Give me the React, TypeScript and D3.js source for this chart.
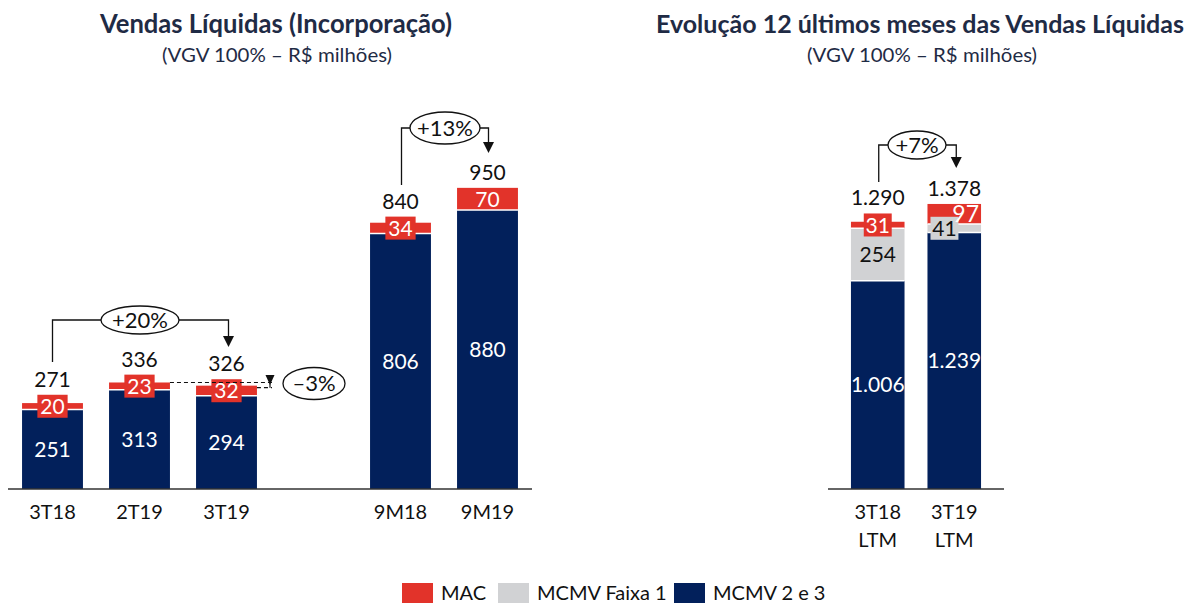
import React from 'react';
import * as d3 from 'd3';

// ---------- DATA ----------
const LEFT_CATS = ['3T18', '2T19', '3T19', '9M18', '9M19'];
const LEFT_MCMV23 = [251, 313, 294, 806, 880];
const LEFT_MAC = [20, 23, 32, 34, 70];
const LEFT_TOTAL = [271, 336, 326, 840, 950];

const RIGHT_CATS = ['3T18 LTM', '3T19 LTM'];
const RIGHT_MCMV23 = [1006, 1239];
const RIGHT_FAIXA1 = [254, 41];
const RIGHT_MAC = [31, 97];
const RIGHT_TOTAL = [1290, 1378];

const LEGEND = ['MAC', 'MCMV Faixa 1', 'MCMV 2 e 3'];

// ---------- STYLE ----------
const RED = '#e2332a';
const GREY = '#d1d2d4';
const NAVY = '#02205b';
const TITLE = '#1f2b45';
const FONT = 'Lato, "Open Sans", sans-serif';

const locale = d3.formatLocale({ decimal: ',', thousands: '.', grouping: [3], currency: ['R$', ''] });
const fmt = locale.format(',d');

type Seg = { v: number; color: string; text: string; textColor: string; align: 'center' | 'start' | 'end' };

function approxWidth(s: string, size: number) {
  let w = 0;
  for (const c of s) w += c === '1' ? size * 0.42 : c === '.' ? size * 0.25 : size * 0.53;
  return w;
}

function Stack({ x, w, segs, y, total }: { x: number; w: number; segs: Seg[]; y: d3.ScaleLinear<number, number>; total: string }) {
  let cum = 0;
  const parts = segs.map((s) => {
    const y0 = y(cum);
    cum += s.v;
    const y1 = y(cum);
    return { ...s, y0, y1 };
  });
  const top = parts[parts.length - 1].y1;
  let labelTop = top;
  const els: React.ReactNode[] = [];
  parts.forEach((p, i) => {
    els.push(<rect key={'r' + i} x={x} y={p.y1} width={w} height={p.y0 - p.y1} fill={p.color} />);
  });
  parts.forEach((p, i) => {
    if (i > 0) els.push(<line key={'s' + i} x1={x} x2={x + w} y1={p.y0} y2={p.y0} stroke="#fff" strokeWidth={1.6} />);
  });
  parts.forEach((p, i) => {
    const h = p.y0 - p.y1;
    const cy = (p.y0 + p.y1) / 2;
    const fs = 21;
    if (h < 16) {
      const tw = approxWidth(p.text, fs) + 8;
      const bh = 23;
      let bx = x + w / 2 - tw / 2;
      if (p.align === 'start') bx = x + 3;
      if (p.align === 'end') bx = x + w - 3 - tw;
      labelTop = Math.min(labelTop, cy - bh / 2);
      els.push(<rect key={'b' + i} x={bx} y={cy - bh / 2} width={tw} height={bh} fill={p.color} />);
      els.push(
        <text key={'t' + i} x={bx + tw / 2} y={cy} dy="0.36em" textAnchor="middle" fontSize={fs} fill={p.textColor}>
          {p.text}
        </text>
      );
    } else {
      let tx = x + w / 2;
      let anchor = 'middle';
      let f = fs;
      if (p.align === 'end') { tx = x + w - 2; anchor = 'end'; f = 23; }
      if (p.align === 'start') { tx = x + 3; anchor = 'start'; }
      els.push(
        <text key={'t' + i} x={tx} y={cy} dy="0.36em" textAnchor={anchor} fontSize={f} fill={p.textColor}>
          {p.text}
        </text>
      );
    }
  });
  els.push(
    <text key="tot" x={x + w / 2} y={labelTop - 8} textAnchor="middle" fontSize={21} fill="#111">
      {total}
    </text>
  );
  return <g>{els}</g>;
}

function Bracket({ x1, y1, x2, yb, cx, rx, ry, tip, label }: { x1: number; y1: number; x2: number; yb: number; cx: number; rx: number; ry: number; tip: number; label: string }) {
  return (
    <g>
      <path d={`M${x1},${y1}V${yb}H${cx - rx}`} fill="none" stroke="#111" strokeWidth={1.3} />
      <path d={`M${cx + rx},${yb}H${x2}V${tip - 9}`} fill="none" stroke="#111" strokeWidth={1.3} />
      <path d={`M${x2 - 5.5},${tip - 11}L${x2 + 5.5},${tip - 11}L${x2},${tip}Z`} fill="#111" />
      <ellipse cx={cx} cy={yb} rx={rx} ry={ry} fill="#fff" stroke="#111" strokeWidth={1.3} />
      <text x={cx} y={yb} dy="0.36em" textAnchor="middle" fontSize={22} fill="#111">{label}</text>
    </g>
  );
}

export default function App() {
  const base = 489;
  // left chart
  const xL = d3.scaleBand<string>().domain(['3T18', '2T19', '3T19', '_', '9M18', '9M19']).range([9, 531]).paddingInner(0.3).paddingOuter(0.15);
  const yL = d3.scaleLinear().domain([0, 1000]).range([base, base - 317]);
  // right chart
  const xR = d3.scaleBand<string>().domain(RIGHT_CATS).range([828, 1004]).paddingInner(0.3).paddingOuter(0.3);
  const yR = d3.scaleLinear().domain([0, 1000]).range([base, base - 207]);

  const cL = (i: number) => (xL(LEFT_CATS[i]) as number) + xL.bandwidth() / 2;
  const cR = (i: number) => (xR(RIGHT_CATS[i]) as number) + xR.bandwidth() / 2;

  const y2T19 = yL(LEFT_TOTAL[1]);
  const y3T19 = yL(LEFT_TOTAL[2]);

  return (
    <svg width={1193} height={603} style={{ position: 'absolute', left: 0, top: 0 }} fontFamily={FONT}>
      <rect width={1193} height={603} fill="#fff" />
      {/* titles */}
      <text x={276} y={33} textAnchor="middle" fontSize={26} fontWeight={700} fill={TITLE} textLength={352} lengthAdjust="spacingAndGlyphs">Vendas Líquidas (Incorporação)</text>
      <text x={277} y={62} textAnchor="middle" fontSize={20} fill={TITLE} textLength={230} lengthAdjust="spacingAndGlyphs">(VGV 100% – R$ milhões)</text>
      <text x={920} y={33} textAnchor="middle" fontSize={24} fontWeight={700} fill={TITLE} textLength={528} lengthAdjust="spacingAndGlyphs">Evolução 12 últimos meses das Vendas Líquidas</text>
      <text x={922} y={62} textAnchor="middle" fontSize={20} fill={TITLE} textLength={230} lengthAdjust="spacingAndGlyphs">(VGV 100% – R$ milhões)</text>

      {/* left bars */}
      {LEFT_CATS.map((c, i) => (
        <Stack
          key={c}
          x={xL(c) as number}
          w={xL.bandwidth()}
          y={yL}
          total={fmt(LEFT_TOTAL[i])}
          segs={[
            { v: LEFT_MCMV23[i], color: NAVY, text: fmt(LEFT_MCMV23[i]), textColor: '#fff', align: 'center' },
            { v: LEFT_MAC[i], color: RED, text: fmt(LEFT_MAC[i]), textColor: '#fff', align: 'center' },
          ]}
        />
      ))}
      <line x1={8} x2={532} y1={base} y2={base} stroke="#333" strokeWidth={1.3} />
      {LEFT_CATS.map((c, i) => (
        <text key={'xl' + c} x={cL(i)} y={519} textAnchor="middle" fontSize={20} fill="#111">{c}</text>
      ))}

      {/* right bars */}
      {RIGHT_CATS.map((c, i) => (
        <Stack
          key={c}
          x={xR(c) as number}
          w={xR.bandwidth()}
          y={yR}
          total={fmt(RIGHT_TOTAL[i])}
          segs={[
            { v: RIGHT_MCMV23[i], color: NAVY, text: fmt(RIGHT_MCMV23[i]), textColor: '#fff', align: 'center' },
            { v: RIGHT_FAIXA1[i], color: GREY, text: fmt(RIGHT_FAIXA1[i]), textColor: '#111', align: i === 1 ? 'start' : 'center' },
            { v: RIGHT_MAC[i], color: RED, text: fmt(RIGHT_MAC[i]), textColor: '#fff', align: i === 1 ? 'end' : 'center' },
          ]}
        />
      ))}
      <line x1={828} x2={1004} y1={base} y2={base} stroke="#333" strokeWidth={1.3} />
      {RIGHT_CATS.map((c, i) => (
        <text key={'xr' + c} x={cR(i)} y={519} textAnchor="middle" fontSize={20} fill="#111">
          <tspan x={cR(i)}>{c.split(' ')[0]}</tspan>
          <tspan x={cR(i)} dy={28}>{c.split(' ')[1]}</tspan>
        </text>
      ))}

      {/* annotations */}
      <Bracket x1={cL(0)} y1={362} x2={cL(2) + 2} yb={320} cx={140} rx={39} ry={14} tip={347} label="+20%" />
      <Bracket x1={cL(3) + 1} y1={185} x2={cL(4) + 1} yb={128} cx={445} rx={35} ry={16} tip={153} label="+13%" />
      <Bracket x1={cR(0) + 1} y1={182} x2={cR(1) + 2} yb={145} cx={917} rx={29} ry={14} tip={168} label="+7%" />

      {/* -3% */}
      <line x1={(xL('2T19') as number) + xL.bandwidth()} x2={272} y1={y2T19} y2={y2T19} stroke="#111" strokeWidth={1.2} strokeDasharray="4,3" />
      <line x1={(xL('3T19') as number) + xL.bandwidth()} x2={272} y1={y3T19 + 2} y2={y3T19 + 2} stroke="#111" strokeWidth={1.2} strokeDasharray="4,3" />
      <line x1={270} x2={270} y1={y2T19} y2={y3T19 + 2} stroke="#111" strokeWidth={1.2} />
      <path d={`M265.5,375L274.5,375L270,385Z`} fill="#111" />
      <ellipse cx={314} cy={383.5} rx={31} ry={16} fill="#fff" stroke="#111" strokeWidth={1.3} />
      <text x={314} y={383.5} dy="0.36em" textAnchor="middle" fontSize={22} fill="#111">–3%</text>

      {/* legend */}
      {LEGEND.map((l, i) => {
        const xs = [402, 498, 674][i];
        const col = [RED, GREY, NAVY][i];
        return (
          <g key={l}>
            <rect x={xs} y={583} width={31} height={20} fill={col} />
            <text x={xs + 39} y={600} fontSize={20} fill="#111">{l}</text>
          </g>
        );
      })}
    </svg>
  );
}
